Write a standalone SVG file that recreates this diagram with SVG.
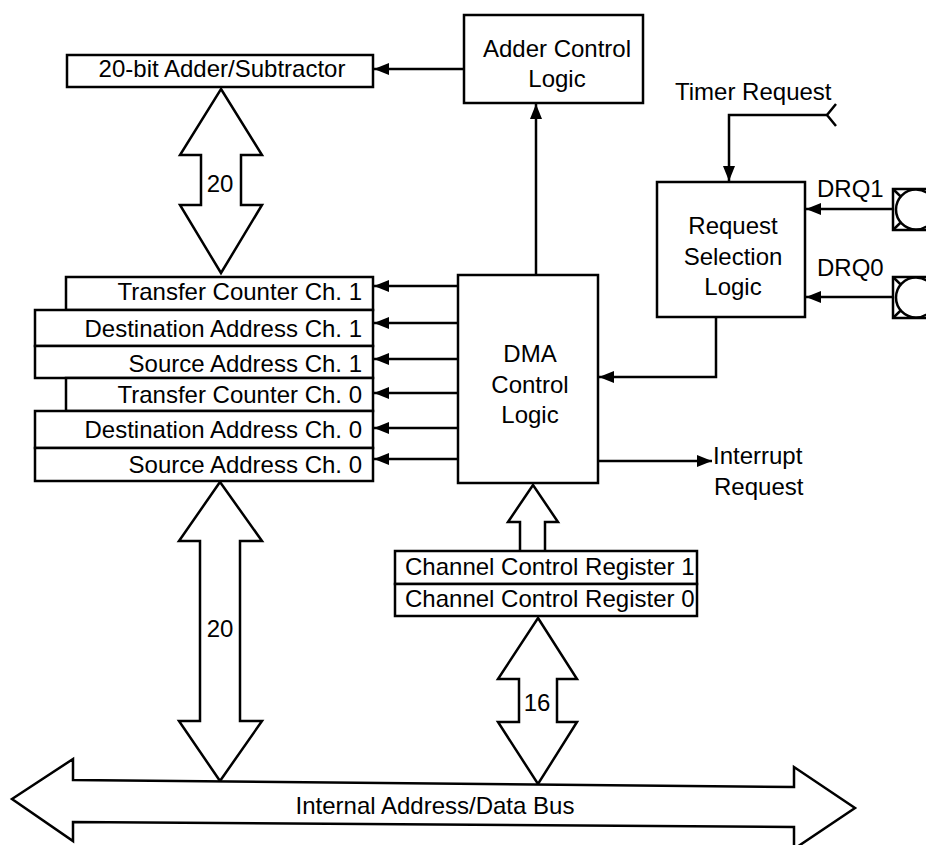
<svg xmlns="http://www.w3.org/2000/svg" width="926" height="845" viewBox="0 0 926 845">
<style>
.box{fill:#fff;stroke:#000;stroke-width:2.5}
.ln{fill:none;stroke:#000;stroke-width:2.5}
.hol{fill:#fff;stroke:#000;stroke-width:2.5;stroke-linejoin:miter}
text{font-family:"Liberation Sans",Arial,Helvetica,sans-serif;font-size:24px;fill:#000}
.r{text-anchor:end}
.c{text-anchor:middle}
</style>
<defs>
<marker id="ah" markerUnits="userSpaceOnUse" markerWidth="16" markerHeight="14" refX="15" refY="6" orient="auto">
<path d="M0,0 L15,6 L0,12 Z" fill="#000"/>
</marker>
</defs>
<rect width="926" height="845" fill="#fff"/>

<g id="connectors">
<path class="ln" d="M464,69 L374,69" marker-end="url(#ah)"/>
<path class="ln" d="M536,275 L536,104" marker-end="url(#ah)"/>
<path class="ln" d="M827,115 L729,115 L729,181" marker-end="url(#ah)"/>
<path class="ln" d="M836,104 L827,115 L836,126"/>
<path class="ln" d="M893,209 L806,209" marker-end="url(#ah)"/>
<path class="ln" d="M893,297 L806,297" marker-end="url(#ah)"/>
<path class="ln" d="M716,317 L716,377 L599,377" marker-end="url(#ah)"/>
<path class="ln" d="M458,286 L374,286" marker-end="url(#ah)"/>
<path class="ln" d="M458,323 L374,323" marker-end="url(#ah)"/>
<path class="ln" d="M458,359 L374,359" marker-end="url(#ah)"/>
<path class="ln" d="M458,393 L374,393" marker-end="url(#ah)"/>
<path class="ln" d="M458,428 L374,428" marker-end="url(#ah)"/>
<path class="ln" d="M458,459 L374,459" marker-end="url(#ah)"/>
<path class="ln" d="M598,461 L712,461" marker-end="url(#ah)"/>
<path class="hol" d="M221,89 L262,155 L241,155 L241,205 L262,205 L221,273 L180,205 L201,205 L201,155 L180,155 Z"/>
<text x="220" y="192" class="c" font-size="23">20</text>
<path class="hol" d="M220,482 L262,541 L240,541 L240,721 L262,721 L220,781 L179,721 L200,721 L200,541 L179,541 Z"/>
<text x="220" y="637" class="c" font-size="23">20</text>
<path class="hol" d="M520,551 L520,522 L508,522 L533,485 L558,522 L545,522 L545,551"/>
<path class="hol" d="M538,618 L577,679 L557,679 L557,722 L577,722 L538,784 L498,722 L519,722 L519,679 L498,679 Z"/>
<text x="537" y="711" class="c" font-size="23">16</text>
</g>

<g id="bus">
<polygon class="hol" points="12,799 73,759 73,780 794,787 794,767 855,808 794,849 794,827 73,822 73,841"/>
<text x="435" y="814" class="c">Internal Address/Data Bus</text>
</g>

<g id="adder">
<rect class="box" x="67" y="55" width="306" height="32"/>
<text x="222" y="77" class="c">20-bit Adder/Subtractor</text>
</g>

<g id="adder-control">
<rect class="box" x="464" y="15" width="179" height="88"/>
<text x="557" y="57" class="c">Adder Control</text>
<text x="557" y="87" class="c">Logic</text>
</g>

<g id="timer-request">
<text x="675" y="100">Timer Request</text>
</g>

<g id="request-selection">
<rect class="box" x="657" y="182" width="148" height="135"/>
<text x="733" y="234" class="c">Request</text>
<text x="733" y="265" class="c">Selection</text>
<text x="733" y="295" class="c">Logic</text>
</g>

<g id="drq1">
<text x="817" y="197">DRQ1</text>
<rect class="box" x="893" y="189" width="42" height="41"/>
<path class="ln" d="M893,189 L935,230 M935,189 L893,230"/>
<circle cx="916" cy="209.5" r="20" fill="#fff" stroke="#000" stroke-width="2.5"/>
</g>

<g id="drq0">
<text x="817" y="276">DRQ0</text>
<rect class="box" x="893" y="277" width="42" height="41"/>
<path class="ln" d="M893,277 L935,318 M935,277 L893,318"/>
<circle cx="916" cy="297.5" r="20" fill="#fff" stroke="#000" stroke-width="2.5"/>
</g>

<g id="registers">
<rect class="box" x="66" y="277" width="307" height="33"/>
<text x="362" y="300" class="r">Transfer Counter Ch. 1</text>
<rect class="box" x="35" y="310" width="338" height="36"/>
<text x="362" y="337" class="r">Destination Address Ch. 1</text>
<rect class="box" x="35" y="346" width="338" height="32"/>
<text x="362" y="372" class="r">Source Address Ch. 1</text>
<rect class="box" x="66" y="378" width="307" height="33"/>
<text x="362" y="403" class="r">Transfer Counter Ch. 0</text>
<rect class="box" x="35" y="411" width="338" height="37"/>
<text x="362" y="438" class="r">Destination Address Ch. 0</text>
<rect class="box" x="35" y="448" width="338" height="33"/>
<text x="362" y="473" class="r">Source Address Ch. 0</text>
</g>

<g id="dma-control">
<rect class="box" x="458" y="275" width="140" height="208"/>
<text x="530" y="362" class="c">DMA</text>
<text x="530" y="393" class="c">Control</text>
<text x="530" y="423" class="c">Logic</text>
</g>

<g id="interrupt">
<text x="713" y="464">Interrupt</text>
<text x="714" y="495">Request</text>
</g>

<g id="channel-control">
<rect class="box" x="395" y="551" width="302" height="33"/>
<text x="405" y="575" font-size="23">Channel Control Register 1</text>
<rect class="box" x="395" y="584" width="302" height="32"/>
<text x="405" y="607" font-size="23">Channel Control Register 0</text>
</g>
</svg>
